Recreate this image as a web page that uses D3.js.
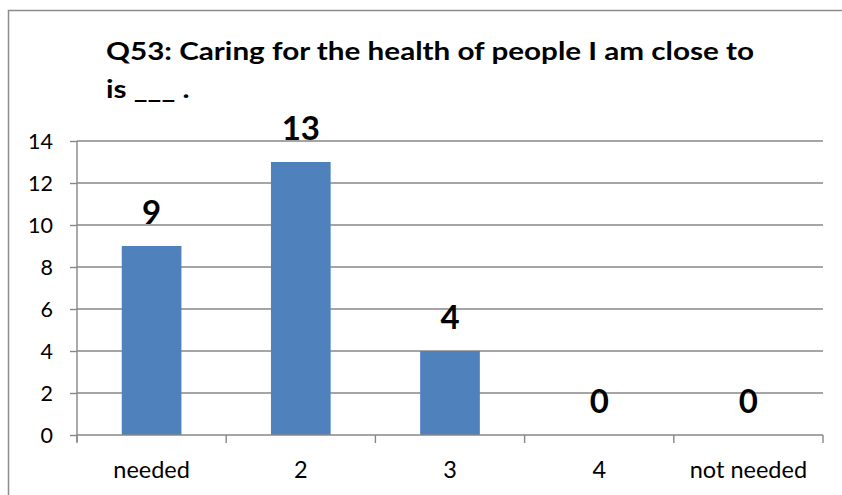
<!DOCTYPE html>
<html><head><meta charset="utf-8">
<script src="https://cdn.jsdelivr.net/npm/d3@7"></script>
<style>html,body{margin:0;padding:0;background:#fff;}svg{display:block;}</style>
</head><body>
<script>
const categories = ["needed", "2", "3", "4", "not needed"];
const values = [9, 13, 4, 0, 0];
const yTicks = [0, 2, 4, 6, 8, 10, 12, 14];
const titleLines = ["Q53: Caring for the health of people I am close to", "is ___ ."];

(function () {
const W = 842, H = 495;
const svg = d3.select("body").append("svg").attr("width", W).attr("height", H);
svg.append("rect").attr("x", 0).attr("y", 0).attr("width", W).attr("height", H).attr("fill", "#fff");
// outer frame
svg.append("rect").attr("x", 8.5).attr("y", 10.5).attr("width", W + 20).attr("height", H + 20)
  .attr("fill", "none").attr("stroke", "#8c8c8c").attr("stroke-width", 1.5);

const pL = 77, pR = 823, pT = 141, pB = 435;
const x = d3.scaleBand().domain(categories).range([pL, pR]).paddingInner(0.6).paddingOuter(0.3);
const y = d3.scaleLinear().domain([0, 14]).range([pB, pT]);
const font = "Lato, 'Open Sans', sans-serif";
const grey = "#878787";

// gridlines
svg.append("g").selectAll("line").data(yTicks.filter(t => t > 0)).join("line")
  .attr("x1", pL).attr("x2", pR).attr("y1", d => y(d)).attr("y2", d => y(d))
  .attr("stroke", grey).attr("stroke-width", 1.4);

// y axis
const yAxis = svg.append("g").attr("transform", `translate(${pL},0)`)
  .call(d3.axisLeft(y).tickValues(yTicks).tickSize(7).tickPadding(17).tickFormat(d3.format("d")));
yAxis.select(".domain").attr("stroke", grey).attr("stroke-width", 1.4).attr("d", `M0,${pT}V${pB + 7}`);
yAxis.selectAll(".tick line").attr("stroke", grey).attr("stroke-width", 1.4);
yAxis.selectAll(".tick text").attr("font-family", font).attr("font-size", 21.5).attr("fill", "#000").attr("dy", "0.36em");

// bars
svg.append("g").selectAll("rect").data(values).join("rect")
  .attr("x", (d, i) => x(categories[i])).attr("width", x.bandwidth())
  .attr("y", d => y(d)).attr("height", d => pB - y(d))
  .attr("fill", "#4f81bd");

// x axis
const xAxis = svg.append("g").attr("transform", `translate(0,${pB})`)
  .call(d3.axisBottom(x).tickSize(0).tickPadding(30));
xAxis.select(".domain").remove();
xAxis.append("line").attr("x1", pL).attr("x2", pR).attr("y1", 0).attr("y2", 0)
  .attr("stroke", grey).attr("stroke-width", 1.4);
xAxis.selectAll(".sep").data(d3.range(categories.length + 1)).join("line").attr("class", "sep")
  .attr("x1", i => pL + i * (pR - pL) / categories.length)
  .attr("x2", i => pL + i * (pR - pL) / categories.length)
  .attr("y1", 0).attr("y2", 8).attr("stroke", grey).attr("stroke-width", 1.4);
xAxis.selectAll(".tick text").attr("font-family", font).attr("font-size", 23.5).attr("fill", "#000")
  .attr("dy", null).attr("y", 42.5);

// data labels
svg.append("g").selectAll("text").data(values).join("text")
  .attr("x", (d, i) => x(categories[i]) + x.bandwidth() / 2)
  .attr("y", d => y(d) - 22)
  .attr("text-anchor", "middle").attr("font-family", font).attr("font-weight", "bold")
  .attr("font-size", 33).attr("fill", "#000").text(d => d);

// title
const tt = svg.append("g").selectAll("text").data(titleLines).join("text")
  .attr("x", 106).attr("y", (d, i) => 60 + i * 37.5)
  .attr("font-family", font).attr("font-weight", "bold").attr("font-size", 25)
  .attr("fill", "#000").text(d => d);
// stretch title to the reference width (Calibri is wider than Lato)
const w0 = tt.nodes()[0].getComputedTextLength();
const k = 648 / w0;
tt.each(function () {
  const w = this.getComputedTextLength();
  d3.select(this).attr("textLength", w * k).attr("lengthAdjust", "spacingAndGlyphs");
});
})();
</script>
</body></html>
